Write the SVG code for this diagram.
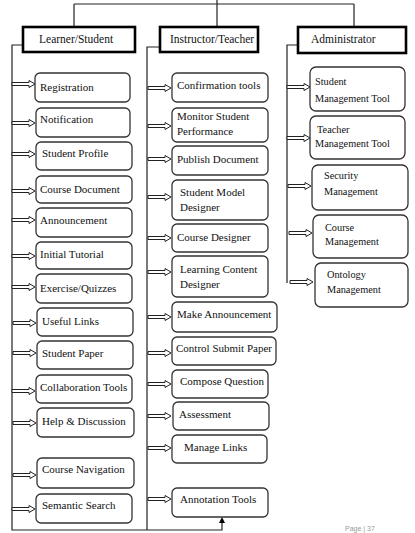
<svg xmlns="http://www.w3.org/2000/svg" xmlns:xlink="http://www.w3.org/1999/xlink" width="415" height="533" viewBox="0 0 415 533">
<style>
.hdr{fill:#fff;stroke:#000;stroke-width:2.6}
.box{fill:#fff;stroke:#333;stroke-width:1.3}
.t{font-family:"Liberation Serif","Times New Roman",serif;font-size:11px;fill:#111}
.ta{font-family:"Liberation Serif","Times New Roman",serif;font-size:10.3px;fill:#111}
.th{font-family:"Liberation Serif","Times New Roman",serif;font-size:11.5px;fill:#111}
.ln{fill:none;stroke:#222;stroke-width:1.2}
.ar{fill:#fff;stroke:#222;stroke-width:1}
.pg{font-family:"Liberation Sans",Arial,sans-serif;font-size:7px;fill:#999}
</style>
<defs>
<path id="ha" d="M0,-1.5 H17 V-3.5 L23,0 L17,3.5 V1.5 H0 Z"/>
</defs>
<rect width="415" height="533" fill="#fff"/>
<g id="connectors">
<path class="ln" d="M217,0 V27 M74,4 H354 M74,4 V27 M354,4 V27"/>
<path class="ln" d="M23,45 H12 V530 H222 V521"/>
<path d="M219,523 L222,517 L225,523 Z" fill="#000"/>
<path class="ln" d="M160,47 H147 V530"/>
<path class="ln" d="M298,45 H287 V283"/>
<g class="ar">
<use href="#ha" x="12" y="84"/>
<use href="#ha" x="12" y="123"/>
<use href="#ha" x="12" y="154"/>
<use href="#ha" x="12" y="191"/>
<use href="#ha" x="12" y="220"/>
<use href="#ha" x="12" y="256"/>
<use href="#ha" x="12" y="287"/>
<use href="#ha" x="13" y="323"/>
<use href="#ha" x="13" y="353"/>
<use href="#ha" x="12" y="391"/>
<use href="#ha" x="13" y="423"/>
<use href="#ha" x="13" y="475"/>
<use href="#ha" x="12" y="509"/>
<use href="#ha" x="148" y="88"/>
<use href="#ha" x="148" y="126"/>
<use href="#ha" x="148" y="159"/>
<use href="#ha" x="148" y="197"/>
<use href="#ha" x="148" y="238"/>
<use href="#ha" x="148" y="272"/>
<use href="#ha" x="148" y="317"/>
<use href="#ha" x="148" y="353"/>
<use href="#ha" x="148" y="384"/>
<use href="#ha" x="148" y="416"/>
<use href="#ha" x="148" y="448"/>
<use href="#ha" x="148" y="499"/>
<use href="#ha" x="287" y="87"/>
<use href="#ha" x="287" y="138"/>
<use href="#ha" x="288" y="186"/>
<use href="#ha" x="289" y="233"/>
<use href="#ha" x="290" y="282"/>
</g>
</g>
<g id="learner"><rect class="hdr" x="23" y="27" width="112" height="25"/><text class="th" x="39" y="43">Learner/Student</text></g>
<g id="instructor"><rect class="hdr" x="160" y="27" width="98" height="25"/><text class="th" x="170" y="43">Instructor/Teacher</text></g>
<g id="administrator"><rect class="hdr" x="298" y="27" width="108" height="26"/><text class="th" x="311" y="43">Administrator</text></g>

<g id="registration"><rect class="box" x="35" y="73" width="95" height="29" rx="5"/><text class="t" x="40" y="91">Registration</text></g>
<g id="notification"><rect class="box" x="36" y="108" width="94" height="29" rx="5"/><text class="t" x="40" y="123">Notification</text></g>
<g id="student-profile"><rect class="box" x="36" y="142" width="96" height="28" rx="5"/><text class="t" x="42" y="157">Student Profile</text></g>
<g id="course-document"><rect class="box" x="36" y="176" width="96" height="27" rx="5"/><text class="t" x="40" y="193">Course Document</text></g>
<g id="announcement"><rect class="box" x="36" y="208" width="96" height="29" rx="5"/><text class="t" x="40" y="224">Announcement</text></g>
<g id="initial-tutorial"><rect class="box" x="36" y="242" width="96" height="27" rx="5"/><text class="t" x="40" y="258">Initial Tutorial</text></g>
<g id="exercise-quizzes"><rect class="box" x="36" y="274" width="96" height="29" rx="5"/><text class="t" x="40" y="292">Exercise/Quizzes</text></g>
<g id="useful-links"><rect class="box" x="37" y="308" width="96" height="28" rx="5"/><text class="t" x="42" y="325">Useful Links</text></g>
<g id="student-paper"><rect class="box" x="37" y="341" width="96" height="28" rx="5"/><text class="t" x="42" y="357">Student Paper</text></g>
<g id="collaboration-tools"><rect class="box" x="36" y="375" width="96" height="28" rx="5"/><text class="t" x="40" y="391">Collaboration Tools</text></g>
<g id="help-discussion"><rect class="box" x="37" y="408" width="97" height="29" rx="5"/><text class="t" x="42" y="425">Help &amp; Discussion</text></g>
<g id="course-navigation"><rect class="box" x="37" y="458" width="97" height="30" rx="5"/><text class="t" x="42" y="473">Course Navigation</text></g>
<g id="semantic-search"><rect class="box" x="36" y="494" width="96" height="29" rx="5"/><text class="t" x="42" y="509">Semantic Search</text></g>

<g id="confirmation-tools"><rect class="box" x="172" y="73" width="96" height="29" rx="5"/><text class="t" x="177" y="89">Confirmation tools</text></g>
<g id="monitor-student-performance"><rect class="box" x="172" y="108" width="96" height="34" rx="5"/><text class="t" x="177" y="120">Monitor Student</text><text class="t" x="177" y="135">Performance</text></g>
<g id="publish-document"><rect class="box" x="172" y="146" width="96" height="29" rx="5"/><text class="t" x="177" y="163">Publish Document</text></g>
<g id="student-model-designer"><rect class="box" x="172" y="180" width="96" height="40" rx="5"/><text class="t" x="180" y="196">Student Model</text><text class="t" x="180" y="211">Designer</text></g>
<g id="course-designer"><rect class="box" x="172" y="224" width="96" height="28" rx="5"/><text class="t" x="177" y="241">Course Designer</text></g>
<g id="learning-content-designer"><rect class="box" x="172" y="256" width="96" height="41" rx="5"/><text class="t" x="180" y="273">Learning Content</text><text class="t" x="180" y="288">Designer</text></g>
<g id="make-announcement"><rect class="box" x="172" y="302" width="105" height="30" rx="5"/><text class="t" x="177" y="318">Make Announcement</text></g>
<g id="control-submit-paper"><rect class="box" x="172" y="337" width="104" height="28" rx="5"/><text class="t" x="176" y="352" textLength="96" lengthAdjust="spacingAndGlyphs">Control Submit Paper</text></g>
<g id="compose-question"><rect class="box" x="172" y="370" width="96" height="28" rx="5"/><text class="t" x="180" y="385">Compose Question</text></g>
<g id="assessment"><rect class="box" x="173" y="402" width="96" height="28" rx="5"/><text class="t" x="179" y="418">Assessment</text></g>
<g id="manage-links"><rect class="box" x="172" y="435" width="95" height="28" rx="5"/><text class="t" x="184" y="451">Manage Links</text></g>
<g id="annotation-tools"><rect class="box" x="172" y="488" width="96" height="29" rx="5"/><text class="t" x="180" y="503">Annotation Tools</text></g>

<g id="student-management-tool"><rect class="box" x="310" y="67" width="95" height="44" rx="6"/><text class="ta" x="315" y="85">Student</text><text class="ta" x="315" y="102">Management Tool</text></g>
<g id="teacher-management-tool"><rect class="box" x="310" y="116" width="95" height="43" rx="6"/><text class="ta" x="317" y="133">Teacher</text><text class="ta" x="315" y="147">Management Tool</text></g>
<g id="security-management"><rect class="box" x="312" y="165" width="96" height="45" rx="6"/><text class="ta" x="324" y="179">Security</text><text class="ta" x="324" y="195">Management</text></g>
<g id="course-management"><rect class="box" x="313" y="215" width="95" height="43" rx="6"/><text class="ta" x="325" y="231">Course</text><text class="ta" x="325" y="245">Management</text></g>
<g id="ontology-management"><rect class="box" x="315" y="263" width="93" height="44" rx="6"/><text class="ta" x="327" y="278">Ontology</text><text class="ta" x="327" y="293">Management</text></g>

<text class="pg" x="345" y="531">Page | 37</text>
</svg>
